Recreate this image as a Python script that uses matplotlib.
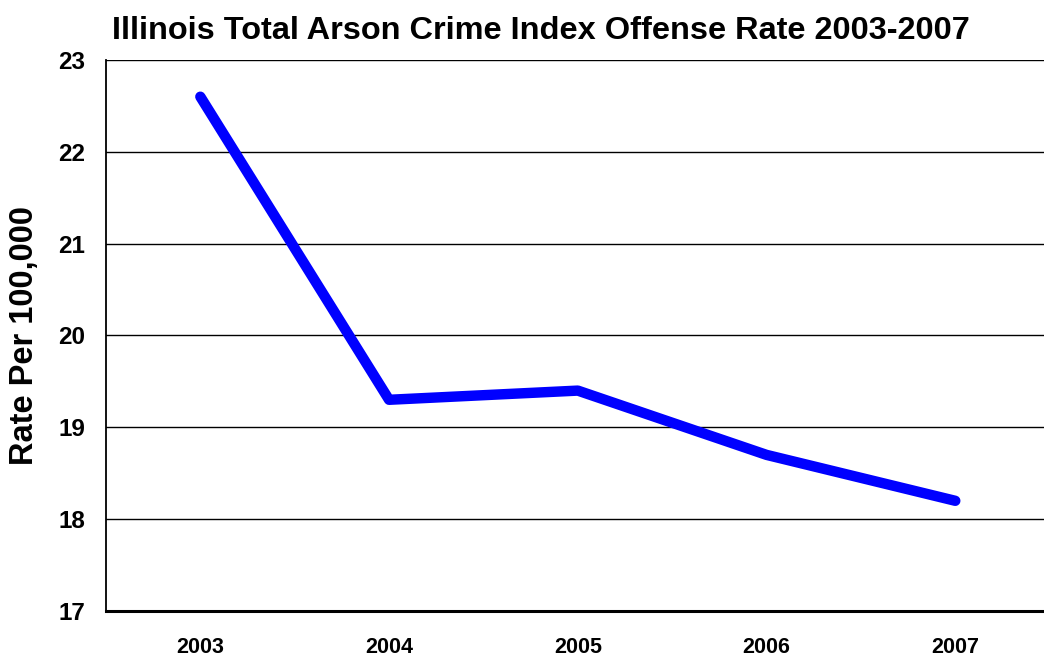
import matplotlib
matplotlib.use("Agg")
import matplotlib.pyplot as plt

years = ["2003", "2004", "2005", "2006", "2007"]
rates = [22.6, 19.3, 19.4, 18.7, 18.2]
y_ticks = [17, 18, 19, 20, 21, 22, 23]

plt.rcParams["font.family"] = ["Liberation Sans", "DejaVu Sans"]
plt.rcParams["font.weight"] = "bold"

fig = plt.figure(figsize=(10.44, 6.57), dpi=100)
ax = fig.add_axes([0.1015, 0.070, 0.8985, 0.8387])

x = list(range(len(years)))
ax.plot(x, rates, color="#0000ff", linewidth=7.5, solid_capstyle="round",
        solid_joinstyle="round", zorder=3)

ax.set_xlim(-0.5, 4.47)
ax.set_ylim(17, 23)
ax.set_yticks(y_ticks)
ax.set_yticklabels([str(t) for t in y_ticks], fontsize=17.5, fontweight="bold")
ax.set_xticks(x)
ax.set_xticklabels(years, fontsize=15.5, fontweight="bold")
ax.tick_params(axis="y", length=0, pad=15)
ax.tick_params(axis="x", length=0, pad=19)

ax.grid(axis="y", color="black", linewidth=1.0)
ax.set_axisbelow(True)
ax.spines["top"].set_visible(False)
ax.spines["right"].set_visible(False)
ax.spines["left"].set_linewidth(1.3)
ax.spines["bottom"].set_linewidth(2.2)

ax.set_ylabel("Rate Per 100,000", fontsize=23.5, fontweight="bold", labelpad=13)
fig.text(0.518, 0.953, "Illinois Total Arson Crime Index Offense Rate 2003-2007",
         ha="center", va="center", fontsize=23.4, fontweight="bold")

fig.savefig("out.png", dpi=100)
